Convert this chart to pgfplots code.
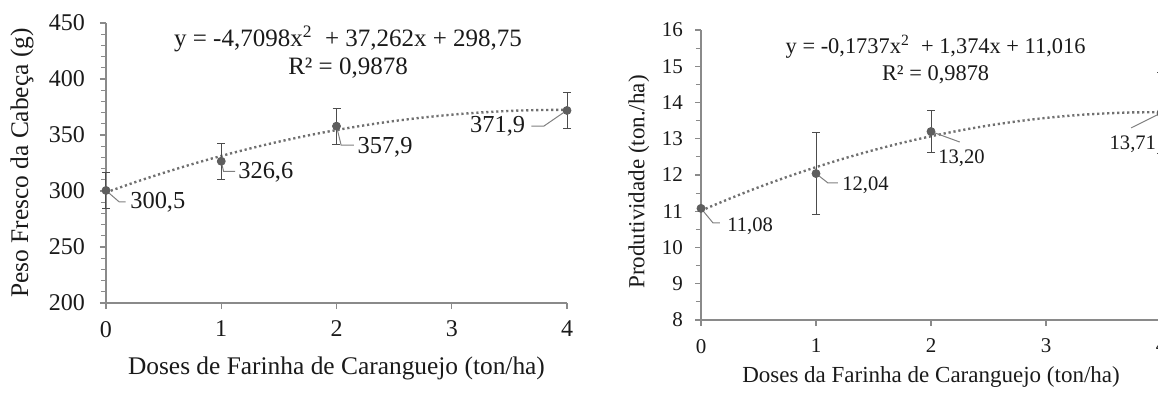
\documentclass[border=0pt]{standalone}
\usepackage{fontspec}
\setmainfont{Liberation Serif}
\usepackage{pgfplots}
\pgfplotsset{compat=1.18}
\definecolor{ptcol}{HTML}{5E5E5E}
\definecolor{trend}{HTML}{707070}
\definecolor{axcol}{HTML}{8A8A8A}
\definecolor{txt}{HTML}{1A1A1A}
\definecolor{lead}{HTML}{7F7F7F}
\pgfplotsset{
  mystyle/.style={
    scale only axis, axis lines=left,
    axis line style={-, axcol, line width=0.6pt},
    tick style={axcol, line width=0.6pt}, tick align=outside,
    major tick length=3pt, minor tick length=2.6pt,
    xtick={0,1,2,3,4}, xmin=0, xmax=4,
    clip=false,
    /pgf/number format/assume math mode=true,
    tick label style={text=txt},
    label style={text=txt},
  },
  pts/.style={only marks, mark=*, mark size=2pt, color=ptcol,
    error bars/.cd, y dir=both, y explicit,
    error bar style={line width=0.5pt, color=black!70},
    error mark options={rotate=90, mark size=2pt, line width=0.5pt, black!70}},
  trendl/.style={trend, line width=1.2pt, dash pattern=on 1.1pt off 1.4pt, smooth},
}
\begin{document}
\begin{tikzpicture}
% ---------------- left chart ----------------
\begin{axis}[mystyle,
  at={(53pt,44.5pt)}, anchor=south west,
  width=230.5pt, height=140pt,
  ymin=200, ymax=450, ytick={200,250,...,450}, minor y tick num=4,
  tick label style={font=\fontsize{12}{14}\selectfont},
  xticklabel style={yshift=-2.5pt},
  yticklabel style={xshift=-4pt},
  label style={font=\fontsize{12.7}{15}\selectfont},
  xlabel={Doses de Farinha de Caranguejo (ton/ha)},
  ylabel={Peso Fresco da Cabeça (g)},
  xlabel style={at={(axis description cs:0.5,-0.235)}, anchor=center},
  ylabel style={at={(axis description cs:-0.182,0.5)}, anchor=center},
]
\addplot[trendl] coordinates {
 (0,298.75) (0.25,307.77) (0.5,316.20) (0.75,324.05) (1,331.30)
 (1.25,337.97) (1.5,344.05) (1.75,349.53) (2,354.43) (2.25,358.75)
 (2.5,362.47) (2.75,365.60) (3,368.15) (3.25,370.10) (3.5,371.47)
 (3.75,372.25) (4,372.44)};
\addplot[pts] coordinates {
 (0,300.5) +- (0,16)
 (1,326.6) +- (0,16)
 (2,357.9) +- (0,16)
 (4,371.9) +- (0,16)};
\draw[lead, line width=0.5pt] (axis cs:0,300.5) -- (axis cs:0.113,290.4) -- (axis cs:0.17,290.4);
\draw[lead, line width=0.5pt] (axis cs:1,326.6) -- (axis cs:1.02,317.5) -- (axis cs:1.12,317.5);
\draw[lead, line width=0.5pt] (axis cs:2,357.9) -- (axis cs:2.04,341) -- (axis cs:2.15,341);
\draw[lead, line width=0.5pt] (axis cs:3.69,358) -- (axis cs:3.80,358) -- (axis cs:3.97,370);
\begin{scope}[every node/.style={font=\fontsize{12.2}{14}\selectfont, text=txt, inner sep=0pt}]
\node[anchor=west] at (axis cs:0.208,289.5) {300,5};
\node[anchor=west] at (axis cs:1.145,317) {326,6};
\node[anchor=west] at (axis cs:2.18,339) {357,9};
\node[anchor=east] at (axis cs:3.64,357.6) {371,9};
\end{scope}
\node[font=\fontsize{12.5}{15}\selectfont, text=txt, inner sep=0pt] at (axis cs:2.10,435.7) {y = -4,7098x\textsuperscript{2}\ \ + 37,262x + 298,75};
\node[font=\fontsize{12.5}{15}\selectfont, text=txt, inner sep=0pt] at (axis cs:2.10,409.8) {R² = 0,9878};
\end{axis}
% ---------------- right chart ----------------
\begin{axis}[mystyle,
  at={(350.5pt,36pt)}, anchor=south west,
  width=230pt, height=145pt,
  ymin=8, ymax=16, ytick={8,...,16}, minor y tick num=1,
  tick label style={font=\fontsize{10.5}{12}\selectfont},
  xticklabel style={yshift=-3pt},
  yticklabel style={xshift=-2.5pt},
  label style={font=\fontsize{11.5}{14}\selectfont},
  xlabel={Doses da Farinha de Caranguejo (ton/ha)},
  ylabel={Produtividade (ton./ha)},
  xlabel style={at={(axis description cs:0.5,-0.195)}, anchor=center},
  ylabel style={at={(axis description cs:-0.135,0.476)}, anchor=center},
]
\addplot[trendl] coordinates {
 (0,11.016) (0.25,11.349) (0.5,11.660) (0.75,11.949) (1,12.216)
 (1.25,12.462) (1.5,12.686) (1.75,12.889) (2,13.069) (2.25,13.228)
 (2.5,13.365) (2.75,13.481) (3,13.575) (3.25,13.647) (3.5,13.697)
 (3.75,13.726) (4,13.733)};
\addplot[pts] coordinates {
 (0,11.08) +- (0,0)
 (1,12.04) +- (0,1.12)
 (2,13.20) +- (0,0.59)
 (4,13.71) +- (0,1.12)};
\draw[lead, line width=0.5pt] (axis cs:0,11.08) -- (axis cs:0.104,10.68) -- (axis cs:0.165,10.68);
\draw[lead, line width=0.5pt] (axis cs:1,12.04) -- (axis cs:1.104,11.78) -- (axis cs:1.19,11.78);
\draw[lead, line width=0.5pt] (axis cs:2,13.20) -- (axis cs:2.25,12.91);
\draw[lead, line width=0.5pt] (axis cs:3.74,13.30) -- (axis cs:4,13.71);
\begin{scope}[every node/.style={font=\fontsize{10.3}{12}\selectfont, text=txt, inner sep=0pt}]
\node[anchor=west] at (axis cs:0.226,10.59) {11,08};
\node[anchor=west] at (axis cs:1.226,11.72) {12,04};
\node[anchor=west] at (axis cs:2.06,12.47) {13,20};
\node[anchor=west] at (axis cs:3.55,12.855) {13,71};
\end{scope}
\node[font=\fontsize{11.2}{14}\selectfont, text=txt, inner sep=0pt] at (axis cs:2.04,15.53) {y = -0,1737x\textsuperscript{2}\ \ + 1,374x + 11,016};
\node[font=\fontsize{11.2}{14}\selectfont, text=txt, inner sep=0pt] at (axis cs:2.04,14.76) {R² = 0,9878};
\end{axis}
\pgfresetboundingbox
\path[use as bounding box] (0,0) rectangle (579pt,196pt);
\end{tikzpicture}
\end{document}
